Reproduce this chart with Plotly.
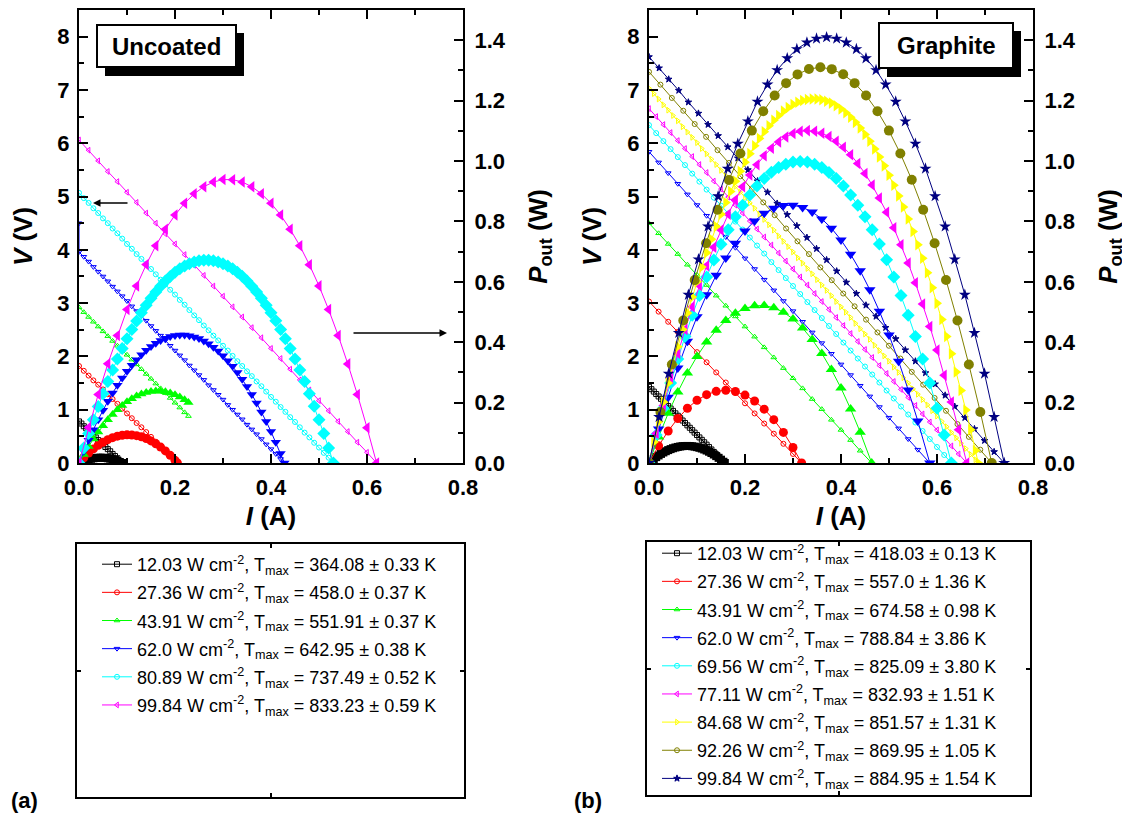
import plotly.graph_objects as go

# the page body keeps an 8 px margin, so the figure is 8 px smaller and page coords are shifted
OFF = 8
W, H = 1130 - OFF, 824 - OFF
def px(x): return (x - OFF) / W
def py(y): return 1 - (y - OFF) / H

# ---------------- Uncoated data ----------------
U1_I = [0, .005, .01, .015, .02, .025, .03, .035, .04, .045, .05, .055, .06, .065, .07, .075, .08, .085, .09]
U1_V = [0.78, 0.74, 0.69, 0.65, 0.61, 0.56, 0.52, 0.48, 0.43, 0.39, 0.35, 0.30, 0.26, 0.22, 0.17, 0.13, 0.09, 0.04, 0.0]
U1_P = [0, .0037, .0069, .0098, .0122, .0140, .0156, .0168, .0172, .0176, .0175, .0165, .0156, .0143, .0119, .0098, .0072, .0034, 0]

U2_I = [0, .01, .02, .03, .04, .05, .06, .07, .08, .09, .10, .11, .12, .13, .14, .15, .16, .17, .18, .19, .20, .205]
U2_V = [1.82, 1.73, 1.64, 1.55, 1.47, 1.38, 1.29, 1.20, 1.11, 1.02, 0.93, 0.84, 0.75, 0.67, 0.58, 0.49, 0.40, 0.31, 0.22, 0.13, 0.04, 0.0]
U2_P = [0, .0173, .0328, .0466, .0586, .0688, .0772, .0839, .0888, .0919, .0932, .0927, .0905, .0866, .0808, .0732, .0638, .0527, .0400, .0253, .0088, 0]

U3_I = [0, .01, .02, .03, .04, .05, .06, .07, .08, .09, .10, .11, .12, .13, .14, .15, .16, .17, .18, .19, .20, .21, .22, .228]
U3_V = [2.92, 2.83, 2.74, 2.65, 2.56, 2.47, 2.38, 2.29, 2.20, 2.11, 2.03, 1.94, 1.85, 1.76, 1.67, 1.58, 1.49, 1.40, 1.31, 1.22, 1.13, 1.04, 0.95, 0.88]
U3_P = [0, .0283, .0548, .0795, .1024, .1236, .1430, .1605, .1763, .1903, .2025, .2129, .2215, .2283, .2334, .2366, .2381, .2377, .2356, .2317, .2260, .2185, .2092, .2006]

U4_I = [0, 0, .01, .02, .03, .04, .05, .06, .07, .08, .09, .10, .11, .12, .13, .14, .15, .16, .17, .18, .19, .20,
        .21, .22, .23, .24, .25, .26, .27, .28, .29, .30, .31, .32, .33, .34, .35, .36, .37, .38, .39, .40, .41, .42, .428]
U4_V = [4.50, 3.96, 3.87, 3.78, 3.68, 3.59, 3.50, 3.41, 3.31, 3.22, 3.13, 3.04, 2.94, 2.85, 2.76, 2.67, 2.57, 2.48, 2.39, 2.30, 2.20, 2.11,
        2.02, 1.93, 1.83, 1.74, 1.65, 1.56, 1.46, 1.37, 1.28, 1.19, 1.09, 1.00, 0.91, 0.82, 0.72, 0.63, 0.54, 0.45, 0.35, 0.26, 0.17, 0.075, 0.0]
U4_P = [0, 0, .0387, .0755, .1105, .1436, .1749, .2043, .2319, .2576, .2815, .3035, .3237, .3420, .3585, .3731, .3859, .3968, .4059, .4131, .4185, .4220,
        .4237, .4235, .4215, .4176, .4119, .4043, .3949, .3836, .3705, .3555, .3387, .3200, .2995, .2771, .2529, .2268, .1989, .1691, .1375, .1040, .0687, .0315, 0]

U5_I = [0, .01, .02, .03, .04, .05, .06, .07, .08, .09, .10, .11, .12, .13, .14, .15, .16, .17, .18, .19, .20, .21, .22, .23, .24, .25, .26,
        .27, .28, .29, .30, .31, .32, .33, .34, .35, .36, .37, .38, .39, .40, .41, .42, .43, .44, .45, .46, .47, .48, .49, .50, .51, .52, .53]
U5_V = [5.07, 4.97, 4.88, 4.78, 4.69, 4.59, 4.50, 4.40, 4.31, 4.21, 4.11, 4.02, 3.92, 3.83, 3.73, 3.64, 3.54, 3.44, 3.35, 3.25, 3.16, 3.06, 2.97, 2.87, 2.77, 2.68, 2.58,
        2.49, 2.39, 2.30, 2.20, 2.11, 2.01, 1.91, 1.82, 1.72, 1.63, 1.53, 1.44, 1.34, 1.24, 1.15, 1.05, 0.96, 0.86, 0.77, 0.67, 0.57, 0.48, 0.38, 0.29, 0.19, 0.10, 0.0]
U5_P = [0, .0497, .0976, .1435, .1875, .2296, .2698, .3080, .3444, .3788, .4113, .4420, .4706, .4974, .5223, .5453, .5662, .5855, .6026, .6179, .6314, .6428, .6523, .6601, .6658, .6698, .6716,
        .6715, .6698, .6658, .6600, .6526, .6429, .6313, .6181, .6027, .5854, .5665, .5453, .5222, .4976, .4707, .4418, .4115, .3788, .3443, .3082, .2698, .2294, .1877, .1435, .0974, .0499, 0]

U6_I = [0, .02, .04, .06, .08, .10, .12, .14, .16, .18, .20, .22, .24, .26, .28, .30, .32, .34, .36, .38, .40, .42, .44, .46, .48, .50, .52, .54, .56, .58, .60, .62]
U6_V = [6.06, 5.87, 5.67, 5.47, 5.28, 5.08, 4.89, 4.69, 4.50, 4.30, 4.11, 3.91, 3.71, 3.52, 3.32, 3.13, 2.93, 2.74, 2.54, 2.35, 2.15, 1.96, 1.76, 1.56, 1.37, 1.17, 0.98, 0.78, 0.59, 0.39, 0.20, 0.0]
U6_P = [0, .1173, .2268, .3284, .4222, .5083, .5864, .6569, .7194, .7742, .8210, .8602, .8914, .9149, .9304, .9384, .9382, .9306, .9148, .8915, .8600, .8211, .7740, .7194, .6566, .5865, .5080, .4223, .3282, .2268, .1170, 0]

# ---------------- Graphite data ----------------
G1_I = [0, .005, .01, .015, .02, .025, .03, .035, .04, .045, .05, .055, .06, .065, .07, .075, .08, .085, .09, .095, .10, .105, .11, .115, .12, .125, .13, .135, .14, .145, .15, .155, .158]
G1_V = [1.43, 1.385, 1.340, 1.294, 1.249, 1.204, 1.159, 1.113, 1.068, 1.023, 0.978, 0.932, 0.887, 0.842, 0.797, 0.751, 0.706, 0.661, 0.616, 0.570, 0.525, 0.480, 0.435, 0.389, 0.344, 0.299, 0.254, 0.208, 0.163, 0.118, 0.073, 0.027, 0.0]
G1_P = [0, .0069, .0134, .0194, .0250, .0301, .0348, .0390, .0427, .0460, .0489, .0513, .0532, .0547, .0558, .0563, .0565, .0562, .0554, .0542, .0525, .0504, .0479, .0447, .0413, .0374, .0330, .0281, .0228, .0171, .0110, .0042, 0]

G2_I = [0, .02, .04, .06, .08, .10, .12, .14, .16, .18, .20, .22, .24, .26, .28, .30, .318]
G2_V = [3.03, 2.84, 2.65, 2.46, 2.27, 2.08, 1.89, 1.70, 1.51, 1.32, 1.12, 0.93, 0.74, 0.55, 0.36, 0.17, 0.0]
G2_P = [0, .0568, .1060, .1475, .1814, .2077, .2263, .2374, .2408, .2367, .2248, .2053, .1783, .1435, .1014, .0513, 0]

G3_I = [0, .02, .04, .06, .08, .10, .12, .14, .16, .18, .20, .22, .24, .26, .28, .30, .32, .34, .36, .38, .40, .42, .44, .464]
G3_V = [4.50, 4.31, 4.11, 3.92, 3.72, 3.53, 3.34, 3.14, 2.95, 2.75, 2.56, 2.37, 2.17, 1.98, 1.78, 1.59, 1.40, 1.20, 1.01, 0.81, 0.62, 0.43, 0.23, 0.0]
G3_P = [0, .0861, .1645, .2351, .2979, .3530, .4003, .4399, .4717, .4957, .5120, .5205, .5213, .5143, .4995, .4770, .4467, .4087, .3629, .3093, .2480, .1789, .1021, 0]

G4_I = [0, .02, .04, .06, .08, .10, .12, .14, .16, .18, .20, .22, .24, .26, .28, .30, .32, .34, .36, .38, .40, .42, .44, .46, .48, .50, .52, .54, .56, .585]
G4_V = [5.84, 5.64, 5.44, 5.24, 5.04, 4.84, 4.64, 4.44, 4.24, 4.04, 3.84, 3.64, 3.44, 3.24, 3.04, 2.85, 2.65, 2.45, 2.25, 2.05, 1.85, 1.65, 1.45, 1.25, 1.05, 0.85, 0.65, 0.45, 0.25, 0.0]
G4_P = [0, .1128, .2177, .3145, .4033, .4842, .5570, .6219, .6787, .7277, .7686, .8015, .8266, .8434, .8523, .8535, .8464, .8313, .8082, .7775, .7384, .6913, .6367, .5737, .5026, .4240, .3370, .2419, .1389, 0]

G5_I = [0, .015, .03, .045, .06, .075, .09, .105, .12, .135, .15, .165, .18, .195, .21, .225, .24, .255, .27, .285, .30,
        .315, .33, .345, .36, .375, .39, .405, .42, .435, .45, .465, .48, .495, .51, .525, .54, .555, .57, .585, .60, .615, .63]
G5_V = [6.34, 6.19, 6.04, 5.89, 5.74, 5.59, 5.43, 5.28, 5.13, 4.98, 4.83, 4.68, 4.53, 4.38, 4.23, 4.08, 3.93, 3.77, 3.62, 3.47, 3.32,
        3.17, 3.02, 2.87, 2.72, 2.57, 2.42, 2.26, 2.11, 1.96, 1.81, 1.66, 1.51, 1.36, 1.21, 1.06, 0.91, 0.76, 0.60, 0.45, 0.30, 0.15, 0.0]
G5_P = [0, .0928, .1811, .2649, .3442, .4189, .4891, .5547, .6158, .6724, .7247, .7722, .8152, .8537, .8877, .9171, .9420, .9624, .9782, .9895, .9963,
        .9986, .9963, .9895, .9781, .9623, .9419, .9169, .8875, .8535, .8154, .7723, .7248, .6727, .6161, .5549, .4892, .4190, .3443, .2650, .1812, .0929, 0]

G6_I = [0, .015, .03, .045, .06, .075, .09, .105, .12, .135, .15, .165, .18, .195, .21, .225, .24, .255, .27, .285, .30, .315,
        .33, .345, .36, .375, .39, .405, .42, .435, .45, .465, .48, .495, .51, .525, .54, .555, .57, .585, .60, .615, .63, .645, .662]
G6_V = [6.65, 6.50, 6.35, 6.20, 6.05, 5.90, 5.75, 5.60, 5.45, 5.29, 5.14, 4.99, 4.84, 4.69, 4.54, 4.39, 4.24, 4.09, 3.94, 3.79, 3.64, 3.49,
        3.34, 3.18, 3.03, 2.88, 2.73, 2.58, 2.43, 2.28, 2.13, 1.98, 1.83, 1.68, 1.53, 1.38, 1.23, 1.08, 0.92, 0.77, 0.62, 0.47, 0.32, 0.17, 0.0]
G6_P = [0, .0975, .1905, .2789, .3628, .4423, .5171, .5875, .6534, .7147, .7715, .8238, .8716, .9147, .9534, .9878, 1.0174, 1.0424, 1.0633, 1.0793, 1.0908, 1.0981,
        1.1006, 1.0985, 1.0922, 1.0811, 1.0655, 1.0457, 1.0210, .9918, .9585, .9202, .8774, .8306, .7787, .7224, .6620, .5966, .5267, .4522, .3738, .2903, .2022, .1103, 0]

G7_I = [0, .01, .02, .03, .04, .05, .06, .07, .08, .09, .10, .11, .12, .13, .14, .15, .16, .17, .18, .19, .20, .21, .22, .23, .24, .25, .26, .27, .28, .29, .30, .31, .32, .33, .34,
        .35, .36, .37, .38, .39, .40, .41, .42, .43, .44, .45, .46, .47, .48, .49, .50, .51, .52, .53, .54, .55, .56, .57, .58, .59, .60, .61, .62, .63, .64, .65, .66, .67, .68, .686]
G7_V = [7.03, 6.93, 6.83, 6.72, 6.62, 6.52, 6.42, 6.31, 6.21, 6.11, 6.01, 5.90, 5.80, 5.70, 5.60, 5.49, 5.39, 5.29, 5.19, 5.08, 4.98, 4.88, 4.78, 4.67, 4.57, 4.47, 4.37, 4.26, 4.16, 4.06, 3.96, 3.85, 3.75, 3.65, 3.55,
        3.44, 3.34, 3.24, 3.14, 3.03, 2.93, 2.83, 2.73, 2.62, 2.52, 2.42, 2.32, 2.21, 2.11, 2.01, 1.91, 1.80, 1.70, 1.60, 1.50, 1.39, 1.29, 1.19, 1.09, 0.98, 0.88, 0.78, 0.68, 0.57, 0.47, 0.37, 0.27, 0.16, 0.06, 0.0]
G7_P = [0, .0693, .1365, .2017, .2648, .3259, .3849, .4419, .4968, .5497, .6005, .6493, .6960, .7407, .7833, .8240, .8624, .8990, .9333, .9658, .9960, 1.0244, 1.0505, 1.0748, 1.0968, 1.1170, 1.1352, 1.1510, 1.1651, 1.1768, 1.1868, 1.1944, 1.2003, 1.2038, 1.2056,
        1.2051, 1.2028, 1.1981, 1.1917, 1.1829, 1.1724, 1.1595, 1.1449, 1.1279, 1.1092, 1.0881, 1.0654, 1.0401, 1.0133, .9839, .9530, .9200, .8845, .8475, .8078, .7667, .7230, .6777, .6299, .5806, .5286, .4752, .4191, .3616, .3014, .2399, .1756, .1099, .0415, 0]

G8_I = [0, .0238, .0476, .0714, .0952, .119, .1428, .1666, .1904, .2142, .238, .2618, .2856, .3094, .3332, .357,
        .3808, .4046, .4284, .4522, .476, .4998, .5236, .5474, .5712, .595, .6188, .6426, .6664, .6902, .714]
G8_V = [7.34, 7.10, 6.85, 6.61, 6.36, 6.12, 5.87, 5.63, 5.38, 5.14, 4.89, 4.65, 4.40, 4.16, 3.92, 3.67,
        3.43, 3.18, 2.94, 2.69, 2.45, 2.20, 1.96, 1.71, 1.47, 1.22, 0.98, 0.73, 0.49, 0.25, 0.0]
G8_P = [0, .1689, .3261, .4717, .6056, .7279, .8385, .9375, 1.0249, 1.1006, 1.1645, 1.2171, 1.2578, 1.2868, 1.3045, 1.3102,
        1.3042, 1.2870, 1.2578, 1.2169, 1.1648, 1.1006, 1.0247, .9377, .8385, .7277, .6058, .4717, .3259, .1691, 0]

G9_I = [0, .021, .041, .062, .082, .103, .123, .144, .164, .185, .206, .226, .247, .267, .288, .308, .329, .349, .370,
        .391, .411, .432, .452, .473, .493, .514, .534, .555, .576, .596, .617, .637, .658, .678, .699, .719, .740]
G9_V = [7.62, 7.41, 7.20, 6.99, 6.77, 6.56, 6.35, 6.14, 5.93, 5.72, 5.50, 5.29, 5.08, 4.87, 4.66, 4.45, 4.23, 4.02, 3.81,
        3.60, 3.39, 3.18, 2.96, 2.75, 2.54, 2.33, 2.12, 1.91, 1.69, 1.48, 1.27, 1.06, 0.85, 0.64, 0.42, 0.21, 0.0]
G9_P = [0, .1523, .2959, .4307, .5569, .6744, .7832, .8832, .9746, 1.0573, 1.1312, 1.1965, 1.2531, 1.3009, 1.3401, 1.3705, 1.3923, 1.4053, 1.4097,
        1.4053, 1.3923, 1.3705, 1.3401, 1.3009, 1.2531, 1.1965, 1.1312, 1.0573, .9746, .8832, .7832, .6744, .5569, .4307, .2959, .1523, 0]

U_LABELS = [
    "12.03 W cm<sup>-2</sup>, T<sub>max</sub> = 364.08 ± 0.33 K",
    "27.36 W cm<sup>-2</sup>, T<sub>max</sub> = 458.0 ± 0.37 K",
    "43.91 W cm<sup>-2</sup>, T<sub>max</sub> = 551.91 ± 0.37 K",
    "62.0 W cm<sup>-2</sup>, T<sub>max</sub> = 642.95 ± 0.38 K",
    "80.89 W cm<sup>-2</sup>, T<sub>max</sub> = 737.49 ± 0.52 K",
    "99.84 W cm<sup>-2</sup>, T<sub>max</sub> = 833.23 ± 0.59 K",
]
G_LABELS = [
    "12.03 W cm<sup>-2</sup>, T<sub>max</sub> = 418.03 ± 0.13 K",
    "27.36 W cm<sup>-2</sup>, T<sub>max</sub> = 557.0 ± 1.36 K",
    "43.91 W cm<sup>-2</sup>, T<sub>max</sub> = 674.58 ± 0.98 K",
    "62.0 W cm<sup>-2</sup>, T<sub>max</sub> = 788.84 ± 3.86 K",
    "69.56 W cm<sup>-2</sup>, T<sub>max</sub> = 825.09 ± 3.80 K",
    "77.11 W cm<sup>-2</sup>, T<sub>max</sub> = 832.93 ± 1.51 K",
    "84.68 W cm<sup>-2</sup>, T<sub>max</sub> = 851.57 ± 1.31 K",
    "92.26 W cm<sup>-2</sup>, T<sub>max</sub> = 869.95 ± 1.05 K",
    "99.84 W cm<sup>-2</sup>, T<sub>max</sub> = 884.95 ± 1.54 K",
]

X_TICKS = [0, 0.2, 0.4, 0.6, 0.8]
V_TICKS = [0, 1, 2, 3, 4, 5, 6, 7, 8]
P_TICKS = [0, 0.2, 0.4, 0.6, 0.8, 1.0, 1.2, 1.4]

U_SERIES = [(U1_I, U1_V, U1_P), (U2_I, U2_V, U2_P), (U3_I, U3_V, U3_P),
            (U4_I, U4_V, U4_P), (U5_I, U5_V, U5_P), (U6_I, U6_V, U6_P)]
G_SERIES = [(G1_I, G1_V, G1_P), (G2_I, G2_V, G2_P), (G3_I, G3_V, G3_P), (G4_I, G4_V, G4_P),
            (G5_I, G5_V, G5_P), (G6_I, G6_V, G6_P), (G7_I, G7_V, G7_P), (G8_I, G8_V, G8_P), (G9_I, G9_V, G9_P)]

# styles: (color, V-marker, P-marker, P-marker size)
U_STYLE = [("#000000", "square-open", "square", 8), ("#FF0000", "circle-open", "circle", 9),
           ("#00FF00", "triangle-up-open", "triangle-up", 9), ("#0000FF", "triangle-down-open", "triangle-down", 9),
           ("#00FFFF", "circle-open", "diamond", 10), ("#FF00FF", "triangle-left-open", "triangle-left", 10)]
G_STYLE = [("#000000", "square-open", "square", 8), ("#FF0000", "circle-open", "circle", 9),
           ("#00FF00", "triangle-up-open", "triangle-up", 10), ("#0000FF", "triangle-down-open", "triangle-down", 10),
           ("#00FFFF", "circle-open", "diamond", 10), ("#FF00FF", "triangle-left-open", "triangle-left", 10),
           ("#FFFF00", "triangle-right-open", "triangle-right", 10), ("#808000", "circle-open", "circle", 10),
           ("#000080", "star", "star", 9)]

fig = go.Figure()

def add_panel(series, styles, labels, xa, yv, yp, leg, tag):
    for k, ((I, V, P), (c, sv, sp, ps), lab) in enumerate(zip(series, styles, labels)):
        fig.add_trace(go.Scatter(x=I, y=V, mode="lines+markers", name=lab, legendgroup=f"{tag}{k}",
                                 line=dict(color=c, width=1),
                                 marker=dict(symbol=sv, size=5, color=c, line=dict(color=c, width=1)),
                                 xaxis=xa, yaxis=yv, legend=leg))
    for (I, V, P), (c, sv, sp, ps), lab in zip(series, styles, labels):
        fig.add_trace(go.Scatter(x=I, y=P, mode="lines+markers", showlegend=False,
                                 line=dict(color=c, width=1),
                                 marker=dict(symbol=sp, size=ps, color=c, line=dict(width=0)),
                                 xaxis=xa, yaxis=yp))

add_panel(U_SERIES, U_STYLE, U_LABELS, "x", "y", "y2", "legend", "u")
add_panel(G_SERIES, G_STYLE, G_LABELS, "x2", "y3", "y4", "legend2", "g")

# empty frames that hold the legends
fig.add_trace(go.Scatter(x=[], y=[], xaxis="x3", yaxis="y5", showlegend=False))
fig.add_trace(go.Scatter(x=[], y=[], xaxis="x4", yaxis="y6", showlegend=False))

FONT = "Liberation Sans"
tickfont = dict(family=FONT, size=22, color="black")
titlefont = dict(family=FONT, size=26, color="black")

def bold(vals, fmt):
    return ["<b>" + fmt.format(v) + "</b>" for v in vals]

COMMON = dict(ticks="inside", ticklen=9, tickwidth=2, tickcolor="black", showline=True, linewidth=2,
              linecolor="black", showgrid=False, zeroline=False, tickfont=tickfont, automargin=False)

def xax(dom, anchor):
    return dict(COMMON, domain=dom, anchor=anchor, range=[0, 0.8], tickvals=X_TICKS, ticktext=bold(X_TICKS, "{:.1f}"),
                ticklabelstandoff=4,
                minor=dict(dtick=0.1, tick0=0, ticks="inside", ticklen=5, tickwidth=2, tickcolor="black"),
                mirror="ticks", title=dict(text="<b><i>I</i> (A)</b>", font=titlefont, standoff=7))

def yvax(dom, anchor):
    return dict(COMMON, domain=dom, anchor=anchor, range=[0, 8.5], tickvals=V_TICKS, ticktext=bold(V_TICKS, "{:d}"),
                ticklabelstandoff=3,
                minor=dict(dtick=0.5, tick0=0, ticks="inside", ticklen=5, tickwidth=2, tickcolor="black"),
                title=dict(text="<b><i>V</i> (V)</b>", font=titlefont, standoff=18))

def ypax(over, anchor):
    return dict(COMMON, overlaying=over, side="right", anchor=anchor, range=[0, 1.5],
                tickvals=P_TICKS, ticktext=bold(P_TICKS, "{:.1f}"), ticklabelstandoff=5,
                minor=dict(dtick=0.1, tick0=0, ticks="inside", ticklen=5, tickwidth=2, tickcolor="black"),
                title=dict(text="<b><i>P</i><sub>out</sub> (W)</b>", font=titlefont, standoff=24))

def boxax(dom, anchor):
    return dict(domain=dom, anchor=anchor, range=[0, 2], tickvals=[1], ticks="inside", ticklen=4, tickwidth=2,
                tickcolor="black", showticklabels=False, showline=True, linewidth=2, linecolor="black",
                mirror="ticks", showgrid=False, zeroline=False, automargin=False)

ydom = [py(463), py(10)]
fig.update_layout(
    template="none",
    width=W, height=H, margin=dict(l=0, r=0, t=0, b=0, autoexpand=False),
    paper_bgcolor="white", plot_bgcolor="rgba(0,0,0,0)",
    xaxis=xax([px(79), px(463)], "y"),
    yaxis=yvax(ydom, "x"),
    yaxis2=ypax("y", "x"),
    xaxis2=xax([px(649), px(1033)], "y3"),
    yaxis3=yvax(ydom, "x2"),
    yaxis4=ypax("y3", "x2"),
    xaxis3=boxax([px(77), px(464)], "y5"),
    yaxis5=boxax([py(797), py(544)], "x3"),
    xaxis4=boxax([px(647), px(1030)], "y6"),
    yaxis6=boxax([py(795), py(542)], "x4"),
    legend=dict(x=px(97), y=py(546), xanchor="left", yanchor="top", bgcolor="rgba(0,0,0,0)", borderwidth=0,
                tracegroupgap=1.75, font=dict(family=FONT, size=18, color="black")),
    legend2=dict(x=px(657), y=py(535), xanchor="left", yanchor="top", bgcolor="rgba(0,0,0,0)", borderwidth=0,
                 tracegroupgap=1.75, font=dict(family=FONT, size=18, color="black")),
    showlegend=True,
)

shapes = []
annotations = []
for (bx0, by0, bx1, by1, txt, cx) in [(97, 25, 236, 67, "Uncoated", 166.5), (879, 23, 1013, 68, "Graphite", 946)]:
    shapes.append(dict(type="rect", xref="paper", yref="paper", x0=px(bx0 + 8), x1=px(bx1 + 8),
                       y0=py(by1 + 9), y1=py(by0 + 8), fillcolor="black", line=dict(width=0), layer="above"))
    shapes.append(dict(type="rect", xref="paper", yref="paper", x0=px(bx0), x1=px(bx1),
                       y0=py(by1), y1=py(by0), fillcolor="white", line=dict(color="black", width=2), layer="above"))
    annotations.append(dict(x=px(cx), y=py((by0 + by1) / 2), xref="paper", yref="paper", xanchor="center",
                            yanchor="middle", text="<b>%s</b>" % txt,
                            showarrow=False, font=dict(family=FONT, size=24, color="black")))

annotations += [
    dict(x=px(93), y=py(203), xref="paper", yref="paper", ax=36, ay=0, text="", showarrow=True,
         arrowhead=2, arrowsize=1, arrowwidth=1.5, arrowcolor="black"),
    dict(x=px(447), y=py(333), xref="paper", yref="paper", ax=-95, ay=0, text="", showarrow=True,
         arrowhead=2, arrowsize=1, arrowwidth=1.5, arrowcolor="black"),
    dict(x=px(9), y=py(800), xref="paper", yref="paper", xanchor="left", yanchor="middle", text="<b>(a)</b>",
         showarrow=False, font=dict(family=FONT, size=22, color="black")),
    dict(x=px(572), y=py(800), xref="paper", yref="paper", xanchor="left", yanchor="middle", text="<b>(b)</b>",
         showarrow=False, font=dict(family=FONT, size=22, color="black")),
]
fig.update_layout(shapes=shapes, annotations=annotations)

fig.write_html("out.html")
